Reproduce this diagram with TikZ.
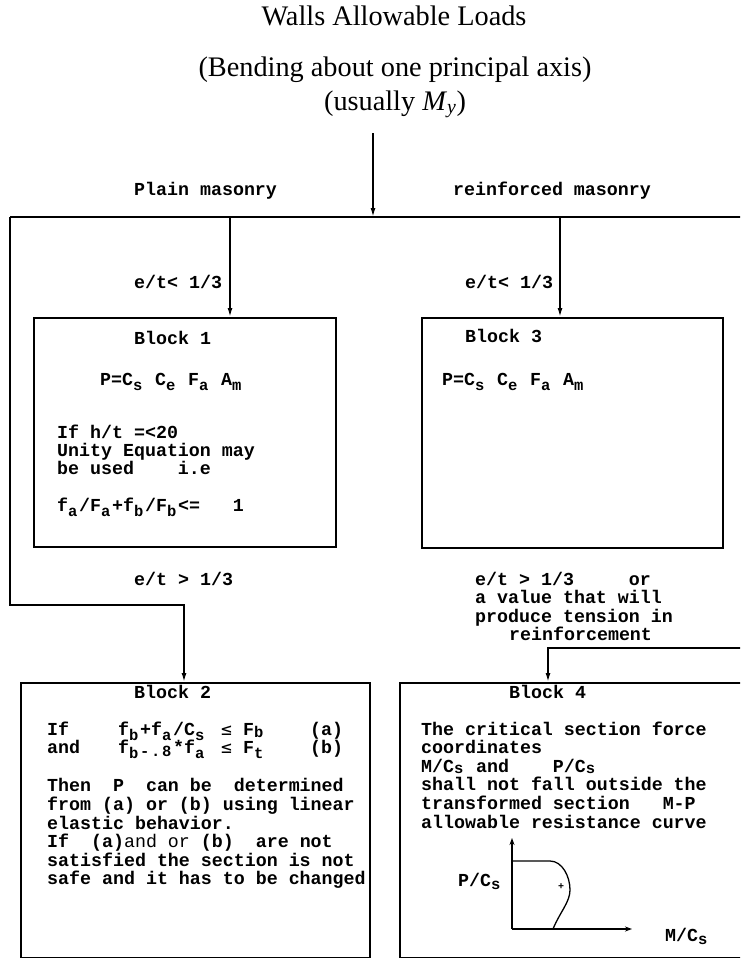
\documentclass[tikz,border=0pt]{standalone}
\usepackage{fontspec}
\setmainfont{Liberation Serif}
\newfontfamily\prt{Liberation Mono}
\newfontfamily\symf{DejaVu Sans Mono}
\usetikzlibrary{arrows.meta}
% lowered index letter, same pitch as the typewriter text
\newcommand\dn[2][-5pt]{\raisebox{#1}{\makebox[11pt][l]{\fontsize{15.5}{15.5}\selectfont #2}}}
\newcommand\lesym{{\symf\mdseries\fontsize{18}{18}\selectfont ≤}}
\begin{document}
\begin{tikzpicture}[x=1pt,y=-1pt,
  txt/.style={font={\prt\bfseries\fontsize{18.3}{18.6}\selectfont}, inner sep=0pt, anchor=base west},
  ttl/.style={font={\fontsize{28.3}{30}\selectfont}, inner sep=0pt, anchor=base},
  blockbox/.style={draw, line width=1.8pt, anchor=north west, inner sep=0pt},
  wire/.style={line width=1.8pt},
  flow/.style={line width=1.6pt, -{Latex[length=9pt,width=5pt]}},
  axis/.style={line width=1.3pt, -{Stealth[length=7pt,width=5pt]}}]
\useasboundingbox (0,0) rectangle (740,958);
\clip (0,0) rectangle (740,958);

% Heading
\node[ttl] (title) at (394,26) {Walls Allowable Loads};
\node[ttl] (bending) at (395,76) {(Bending about one principal axis)};
\node[ttl] (usual) at (395,110) {(usually \textit{M}\textsubscript{\textit{y}})};

% Branch line
\coordinate (src) at (373,133);
\coordinate (busw) at (10,217);
\coordinate (buse) at (745,217);
\draw[wire] (busw) -- (buse);
\draw[flow] (src) -- (src |- busw);
\node[txt] (plain) at (134,195) {Plain masonry};
\node[txt] (reinf) at (453,195) {reinforced masonry};

% Blocks
\node[blockbox, minimum width=302pt, minimum height=229pt] (block1) at (33,317) {};
\node[blockbox, minimum width=301pt, minimum height=230pt] (block3) at (421,317) {};
\node[blockbox, minimum width=349pt, minimum height=275pt] (block2) at (20,682) {};
\node[blockbox, minimum width=370pt, minimum height=275pt] (block4) at (399,682) {};

% Connectors
\coordinate (tap1) at (230,217);
\coordinate (tap3) at (560,217);
\draw[flow] (tap1) -- (tap1 |- block1.north);
\draw[flow] (tap3) -- (tap3 |- block3.north);
\coordinate (bend2) at (184,605);
\draw[flow] (busw) |- (bend2) -- (bend2 |- block2.north);
\coordinate (feed) at (745,648);
\coordinate (bend4) at (548,648);
\draw[flow] (feed) -- (bend4) -- (bend4 |- block4.north);

% Conditions
\node[txt] (ecc1) at (134,288) {e/t< 1/3};
\node[txt] (ecc3) at (465,288) {e/t< 1/3};
\node[txt] (ecc2) at (134,585) {e/t > 1/3};
\node[txt] (ecc4a) at (475,585) {e/t > 1/3~~~~~or};
\node[txt] (ecc4b) at (475,603) {a value that will};
\node[txt] (ecc4c) at (475,622) {produce tension in};
\node[txt] (ecc4d) at (509,640) {reinforcement};

% Block 1
\node[txt] (b1head) at (134,344) {Block 1};
\node[txt] (b1eq) at (100,385) {P=C\dn{s} C\dn{e} F\dn{a} A\dn{m}};
\node[txt] (b1if) at (57,438) {If h/t =<20};
\node[txt] (b1unity) at (57,456) {Unity Equation may};
\node[txt] (b1used) at (57,474) {be used~~~~i.e};
\node[txt] (b1sum) at (57,511) {f\dn{a}/F\dn{a}+f\dn{b}/F\dn{b}<=~~~1};

% Block 3
\node[txt] (b3head) at (465,342) {Block 3};
\node[txt] (b3eq) at (442,385) {P=C\dn{s} C\dn{e} F\dn{a} A\dn{m}};

% Block 2
\node[txt] (b2head) at (134,698) {Block 2};
\node[txt] (b2a) at (47,735) {\makebox[71pt][l]{If}\makebox[103pt][l]{f\dn{b}+f\dn{a}/C\dn{s}}\makebox[22pt][l]{\lesym}\makebox[67pt][l]{F\dn[-2pt]{b}}(a)};
\node[txt] (b2b) at (47,753) {\makebox[71pt][l]{and}\makebox[103pt][l]{f\dn{b}\dn[-3pt]{-}\dn[-3pt]{.}\dn[-3pt]{8}*f\dn{a}}\makebox[22pt][l]{\lesym}\makebox[67pt][l]{F\dn{t}}(b)};
\node[txt] (b2l1) at (47,791) {Then~~P~~can be~~determined};
\node[txt] (b2l2) at (47,810) {from (a) or (b) using linear};
\node[txt] (b2l3) at (47,829) {elastic behavior.};
\node[txt] (b2l4) at (47,847) {If~~(a){\mdseries and or} (b)~~are not};
\node[txt] (b2l5) at (47,866) {satisfied the section is not};
\node[txt] (b2l6) at (47,884) {safe and it has to be changed};

% Block 4
\node[txt] (b4head) at (509,698) {Block 4};
\node[txt] (b4l1) at (421,735) {The critical section force};
\node[txt] (b4l2) at (421,753) {coordinates};
\node[txt] (b4l3) at (421,772) {M/C\dn[-1pt]{s} and~~~~P/C\dn[-1.5pt]{s}};
\node[txt] (b4l4) at (421,790) {shall not fall outside the};
\node[txt] (b4l5) at (421,809) {transformed section~~~M-P};
\node[txt] (b4l6) at (421,828) {allowable resistance curve};

% M-P curve
\coordinate (orig) at (512,929);
\coordinate (ytop) at (512,838);
\coordinate (xend) at (632,929);
\draw[axis] (orig) -- (ytop);
\draw[axis] (orig) -- (xend);
\draw[line width=1.3pt] (512,861) -- (550,861) .. controls (562,861) and (570,876) .. (570,890) .. controls (570,902) and (560,912) .. (553,929);
\node[font={\prt\bfseries\fontsize{10}{10}\selectfont}, inner sep=0pt] (cent) at (561,887) {+};
\node[txt] (plab) at (458,886) {P/C\dn[-3pt]{s}};
\node[txt] (mlab) at (665,941) {M/C\dn[-3pt]{s}};

\end{tikzpicture}
\end{document}
